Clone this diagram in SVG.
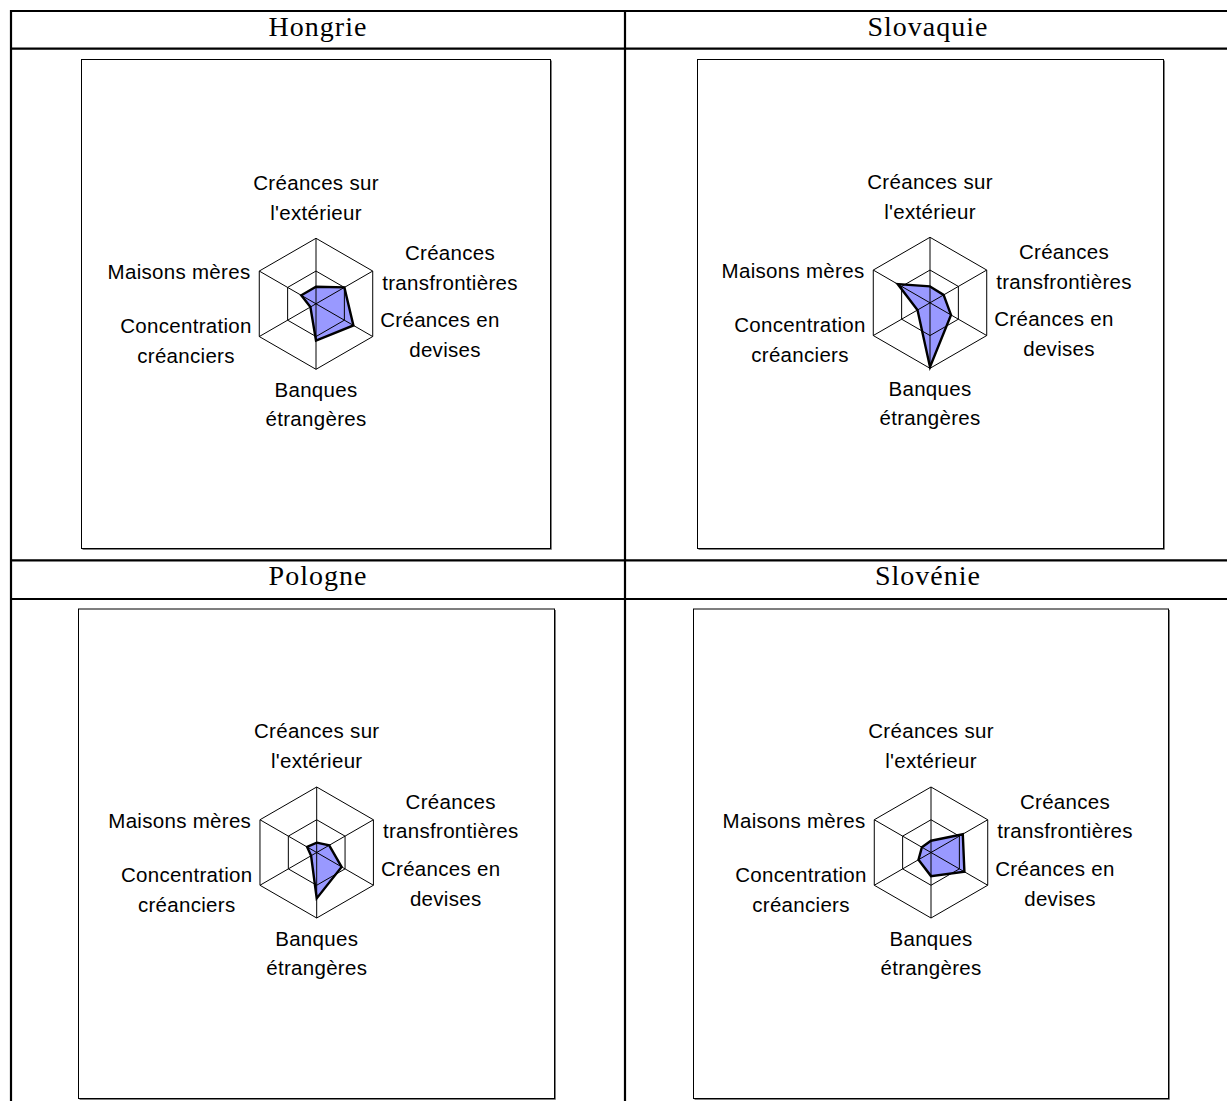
<svg xmlns="http://www.w3.org/2000/svg" xmlns:xlink="http://www.w3.org/1999/xlink" width="1227" height="1101" viewBox="0 0 1227 1101">
<style>
.tbl{stroke:#000;stroke-width:2.2;fill:none}
.box{fill:#fff;stroke:#000;stroke-width:1}
.shadow{stroke:#7f7f7f;stroke-width:1;fill:none}
.grid{fill:none;stroke:#000;stroke-width:1}
.data{fill:#9999ff;stroke:#000;stroke-width:2.4;stroke-linejoin:miter}
.title{font-family:"Liberation Serif","Times New Roman",serif;font-size:28px;letter-spacing:1px;text-anchor:middle;fill:#000}
.lbl{font-family:"Liberation Sans",Arial,sans-serif;font-size:20.5px;letter-spacing:0.3px;text-anchor:middle;fill:#000}
</style>
<defs>
<g id="grid">
<polygon class="grid" points="0,-65.5 56.72,-32.75 56.72,32.75 0,65.5 -56.72,32.75 -56.72,-32.75"/>
<polygon class="grid" points="0,-32.75 28.36,-16.375 28.36,16.375 0,32.75 -28.36,16.375 -28.36,-16.375"/>
<line class="grid" x1="0" y1="-65.5" x2="0" y2="65.5"/>
<line class="grid" x1="56.72" y1="-32.75" x2="-56.72" y2="32.75"/>
<line class="grid" x1="56.72" y1="32.75" x2="-56.72" y2="-32.75"/>
</g>
</defs>
<rect x="0" y="0" width="1227" height="1101" fill="#fff"/>

<g id="table">
<line class="tbl" x1="10" y1="11" x2="1227" y2="11"/>
<line class="tbl" x1="10" y1="48.7" x2="1227" y2="48.7"/>
<line class="tbl" x1="10" y1="560.3" x2="1227" y2="560.3"/>
<line class="tbl" x1="10" y1="599" x2="1227" y2="599"/>
<line class="tbl" x1="11" y1="10" x2="11" y2="1101"/>
<line class="tbl" x1="625" y1="10" x2="625" y2="1101"/>
<text class="title" x="318" y="35.5">Hongrie</text>
<text class="title" x="928" y="35.5">Slovaquie</text>
<text class="title" x="318" y="585">Pologne</text>
<text class="title" x="928" y="585">Slovénie</text>
</g>

<g id="chart-hongrie">
<polyline class="shadow" points="551.5,60.5 551.5,549.5 82.5,549.5"/>
<rect class="box" x="81.5" y="59.5" width="469" height="489"/>
<g transform="translate(316,303.8)">
<polygon class="data" points="0,-17 28.4,-16.4 37.4,21.6 0,36.7 -5.6,3.3 -14.7,-8.5"/>
<use xlink:href="#grid"/>
<text class="lbl" x="0" y="-114.3">Créances sur</text>
<text class="lbl" x="0" y="-84.3">l'extérieur</text>
<text class="lbl" x="134" y="-43.8">Créances</text>
<text class="lbl" x="134" y="-14.3">transfrontières</text>
<text class="lbl" x="124" y="23">Créances en</text>
<text class="lbl" x="129" y="53">devises</text>
<text class="lbl" x="0" y="93">Banques</text>
<text class="lbl" x="0" y="122">étrangères</text>
<text class="lbl" x="-130" y="29.5">Concentration</text>
<text class="lbl" x="-130" y="59">créanciers</text>
<text class="lbl" x="-137" y="-24.5">Maisons mères</text>
</g>
</g>

<g id="chart-slovaquie">
<polyline class="shadow" points="1164.5,60.5 1164.5,549.5 698.5,549.5"/>
<rect class="box" x="697.5" y="59.5" width="466" height="489"/>
<g transform="translate(930,302.8)">
<polygon class="data" points="0,-16.4 13.6,-7.9 21,12.1 0,64.2 -12.5,7.2 -32.3,-18.7"/>
<use xlink:href="#grid"/>
<text class="lbl" x="0" y="-114.3">Créances sur</text>
<text class="lbl" x="0" y="-84.3">l'extérieur</text>
<text class="lbl" x="134" y="-43.8">Créances</text>
<text class="lbl" x="134" y="-14.3">transfrontières</text>
<text class="lbl" x="124" y="23">Créances en</text>
<text class="lbl" x="129" y="53">devises</text>
<text class="lbl" x="0" y="93">Banques</text>
<text class="lbl" x="0" y="122">étrangères</text>
<text class="lbl" x="-130" y="29.5">Concentration</text>
<text class="lbl" x="-130" y="59">créanciers</text>
<text class="lbl" x="-137" y="-24.5">Maisons mères</text>
</g>
</g>

<g id="chart-pologne">
<polyline class="shadow" points="555.5,610 555.5,1099.5 79.5,1099.5"/>
<rect class="box" x="78.5" y="609" width="476" height="489.5"/>
<g transform="translate(316.7,852.5)">
<polygon class="data" points="0,-9.8 12.5,-7.2 24.9,14.4 0,45.9 -5.6,3.3 -9.6,-5.6"/>
<use xlink:href="#grid"/>
<text class="lbl" x="0" y="-114.3">Créances sur</text>
<text class="lbl" x="0" y="-84.3">l'extérieur</text>
<text class="lbl" x="134" y="-43.8">Créances</text>
<text class="lbl" x="134" y="-14.3">transfrontières</text>
<text class="lbl" x="124" y="23">Créances en</text>
<text class="lbl" x="129" y="53">devises</text>
<text class="lbl" x="0" y="93">Banques</text>
<text class="lbl" x="0" y="122">étrangères</text>
<text class="lbl" x="-130" y="29.5">Concentration</text>
<text class="lbl" x="-130" y="59">créanciers</text>
<text class="lbl" x="-137" y="-24.5">Maisons mères</text>
</g>
</g>

<g id="chart-slovenie">
<polyline class="shadow" points="1169.5,610 1169.5,1099.5 694.5,1099.5"/>
<rect class="box" x="693.5" y="609" width="475" height="489.5"/>
<g transform="translate(931,852.5)">
<polygon class="data" points="0,-11.8 31.8,-18.3 33.4,19.3 0,23.6 -12.5,7.2 -9.1,-5.2"/>
<use xlink:href="#grid"/>
<text class="lbl" x="0" y="-114.3">Créances sur</text>
<text class="lbl" x="0" y="-84.3">l'extérieur</text>
<text class="lbl" x="134" y="-43.8">Créances</text>
<text class="lbl" x="134" y="-14.3">transfrontières</text>
<text class="lbl" x="124" y="23">Créances en</text>
<text class="lbl" x="129" y="53">devises</text>
<text class="lbl" x="0" y="93">Banques</text>
<text class="lbl" x="0" y="122">étrangères</text>
<text class="lbl" x="-130" y="29.5">Concentration</text>
<text class="lbl" x="-130" y="59">créanciers</text>
<text class="lbl" x="-137" y="-24.5">Maisons mères</text>
</g>
</g>
</svg>
